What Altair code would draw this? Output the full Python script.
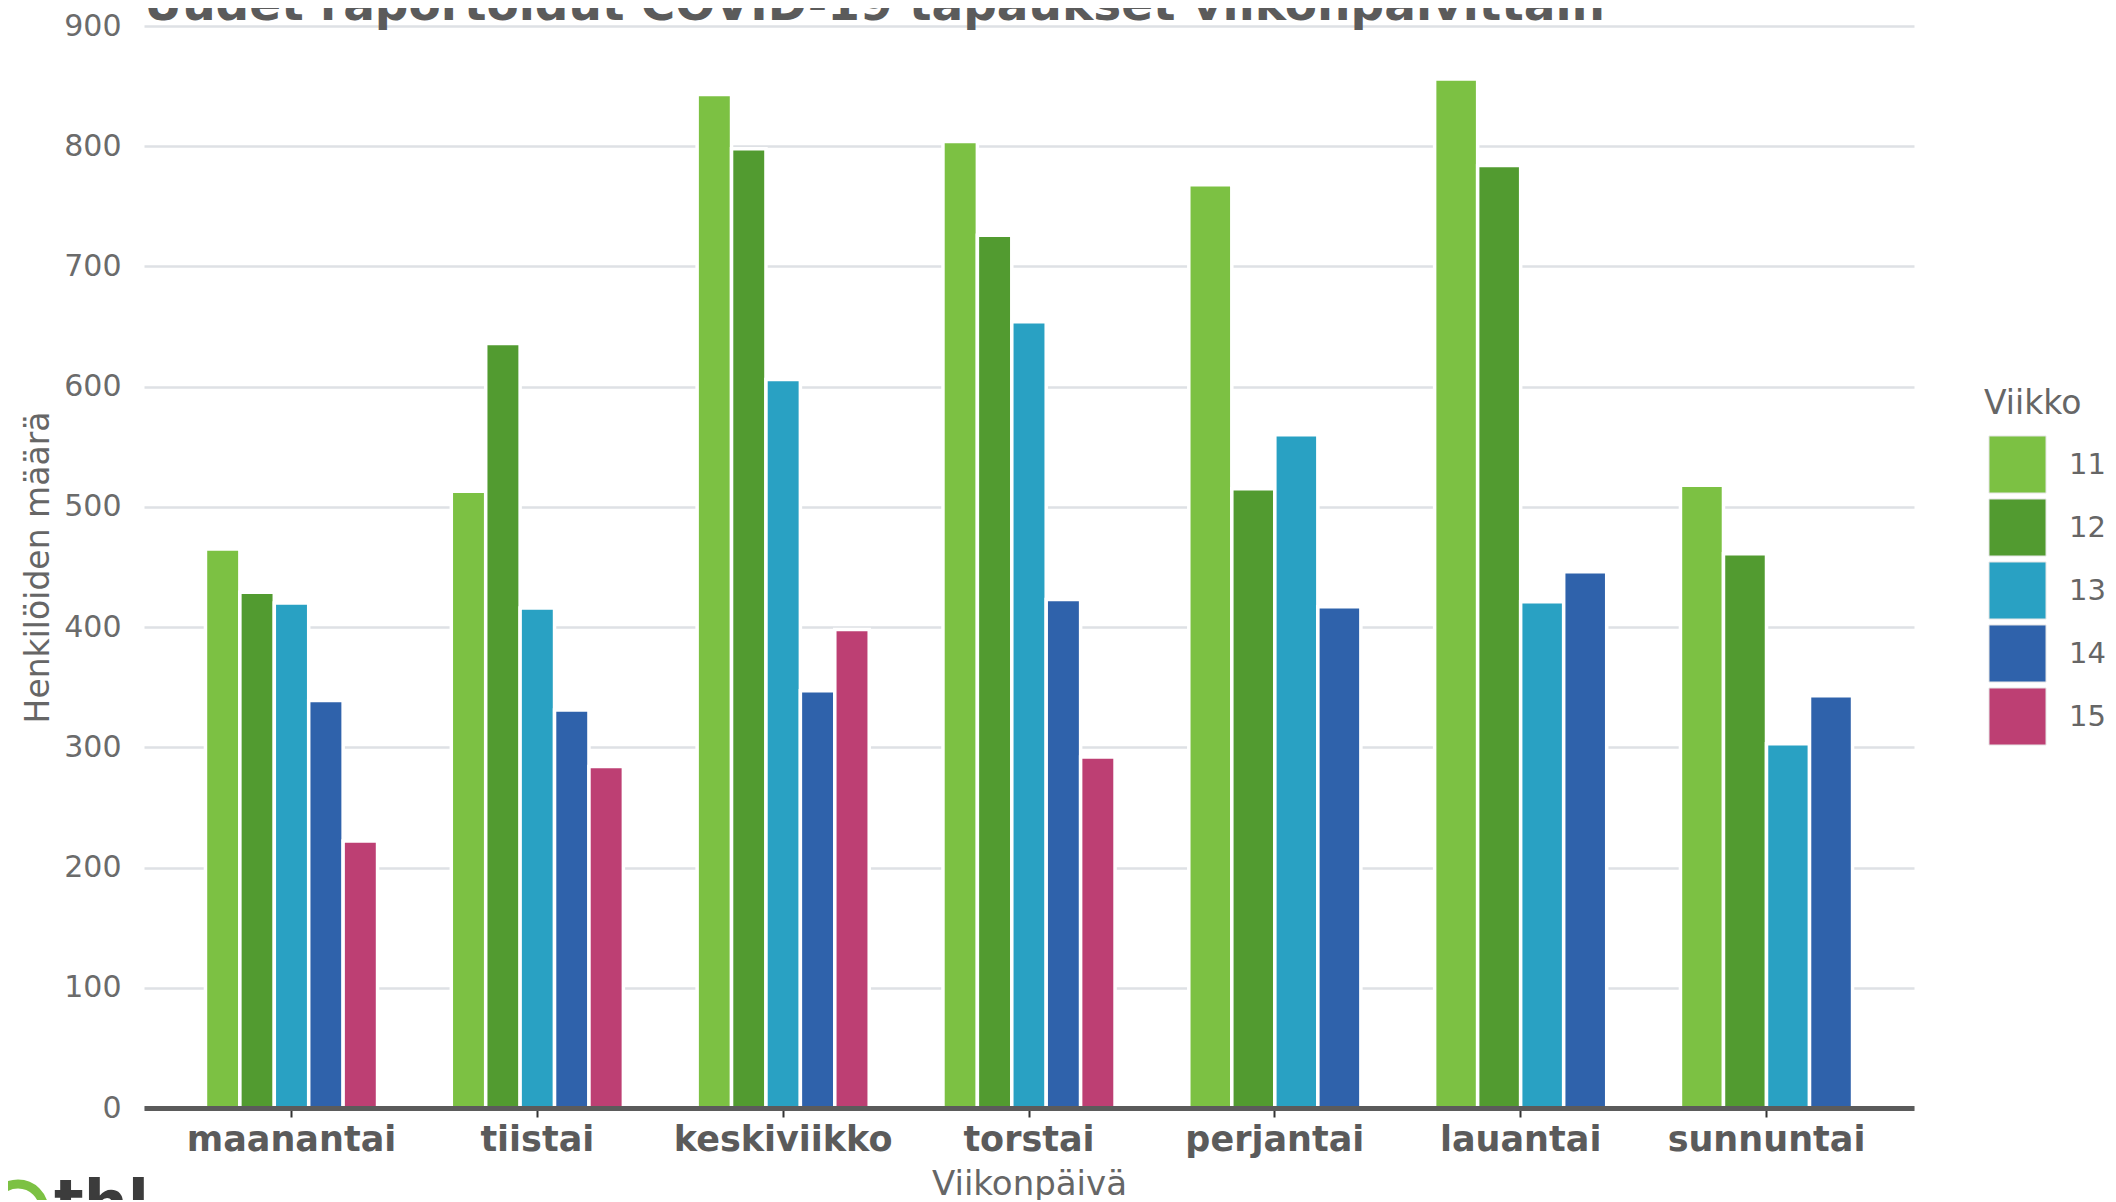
import altair as alt
import pandas as pd

days = ["maanantai", "tiistai", "keskiviikko", "torstai", "perjantai", "lauantai", "sunnuntai"]
weeks = ["11", "12", "13", "14", "15"]
w11 = [465, 513, 843, 804, 768, 856, 518]
w12 = [429, 636, 798, 726, 515, 784, 461]
w13 = [420, 416, 606, 654, 560, 421, 303]
w14 = [339, 331, 347, 423, 417, 446, 343]
w15 = [222, 284, 398, 292, None, None, None]
colors = ["#7cc143", "#529b30", "#29a1c3", "#2f62ab", "#bd3f73"]
title_text = "Uudet raportoidut COVID-19 tapaukset viikonpäivittäin"

rows = []
for wk, vals in zip(weeks, [w11, w12, w13, w14, w15]):
    for d, v in zip(days, vals):
        if v is not None:
            rows.append({"Viikonpäivä": d, "Viikko": wk, "Määrä": v})
df = pd.DataFrame(rows)
counts = df.groupby("Viikonpäivä")["Viikko"].count()
full_days = [d for d in days if counts[d] == 5]
part_days = [d for d in days if counts[d] < 5]

FONT = "DejaVu Sans"
GREY = "#5b5b5b"

x_enc = alt.X(
    "Viikonpäivä:N",
    scale=alt.Scale(domain=days, paddingInner=0.3, paddingOuter=0.25),
    sort=days,
    axis=alt.Axis(
        title="Viikonpäivä", labelAngle=0, labelFont=FONT, labelFontSize=35,
        labelFontWeight="bold", labelColor=GREY, labelPadding=5, labelLimit=600,
        titleFont=FONT, titleFontSize=34, titleFontWeight="normal", titleColor="#666666",
        titlePadding=10, domainColor=GREY, domainWidth=5, tickColor="#333333",
        tickWidth=2, tickSize=9, grid=False, zindex=1,
    ),
)
y_enc = alt.Y(
    "Määrä:Q",
    scale=alt.Scale(domain=[0, 900], nice=False, zero=True),
    axis=alt.Axis(
        title="Henkilöiden määrä", values=list(range(0, 901, 100)), labelFont=FONT,
        labelFontSize=30, labelColor="#6b6b6b", labelPadding=23, ticks=False,
        domain=False, gridColor="#dee1e5", gridWidth=2.5, titleFont=FONT,
        titleFontSize=33, titleFontWeight="normal", titleColor="#666666",
        titleX=-106, titleBaseline="middle",
    ),
)
color_enc = alt.Color(
    "Viikko:N",
    scale=alt.Scale(domain=weeks, range=colors),
    legend=alt.Legend(
        title="Viikko", orient="none", legendX=1840, legendY=362,
        titleFont=FONT, titleFontSize=33, titleFontWeight="normal", titleColor="#666666",
        titlePadding=14, labelFont=FONT, labelFontSize=29, labelColor="#666666",
        labelOffset=22, symbolType="square", symbolSize=3250, symbolStrokeWidth=1,
        symbolStrokeColor="#e6e6e6", symbolOpacity=1, rowPadding=0, symbolOffset=4,
    ),
)

base = alt.Chart(df)
bars_full = base.transform_filter(
    alt.FieldOneOfPredicate(field="Viikonpäivä", oneOf=full_days)
).mark_bar(stroke="white", strokeWidth=3.5).encode(
    x=x_enc, y=y_enc, color=color_enc,
    xOffset=alt.XOffset("Viikko:N", scale=alt.Scale(paddingInner=0, paddingOuter=0)),
)
bars_part = base.transform_filter(
    alt.FieldOneOfPredicate(field="Viikonpäivä", oneOf=part_days)
).mark_bar(stroke="white", strokeWidth=3.5).encode(
    x=x_enc, y=y_enc, color=color_enc,
    xOffset=alt.XOffset("Viikko:N", scale=alt.Scale(paddingInner=0, paddingOuter=0)),
)

title_mark = alt.Chart(pd.DataFrame({"t": [title_text]})).mark_text(
    font=FONT, fontSize=47, fontWeight="bold", color=GREY, align="left",
    baseline="alphabetic"
).encode(text="t:N", x=alt.value(0), y=alt.value(-6))

logo_ring = alt.Chart(pd.DataFrame({"t": ["o"]})).mark_point(
    shape="circle", filled=False, stroke="#7cc143", strokeWidth=9, size=2700, opacity=1
).encode(x=alt.value(-126), y=alt.value(1184))
logo_text = alt.Chart(pd.DataFrame({"t": ["thl"]})).mark_text(
    font=FONT, fontSize=62, fontWeight="bold", color="#3c3c3c", align="left",
    baseline="alphabetic"
).encode(text="t:N", x=alt.value(-90), y=alt.value(1198))

chart = alt.layer(bars_full, bars_part, title_mark, logo_ring, logo_text).resolve_scale(
    xOffset="independent"
).properties(
    width=1770, height=1082,
    background="white",
    autosize=alt.AutoSizeParams(type="none"),
    padding={"left": 136, "top": 18, "right": 194, "bottom": 92},
).configure_view(strokeWidth=0)

chart.save("out.html", embed_options={"renderer": "svg", "actions": False})
